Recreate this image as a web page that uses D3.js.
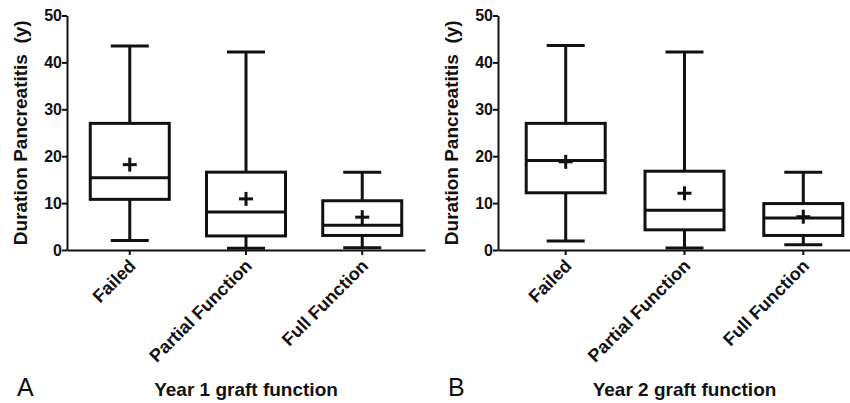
<!DOCTYPE html>
<html>
  <head>
    <meta charset="utf-8">
    <script src="https://d3js.org/d3.v7.min.js"></script>
    <style>
      body { margin: 0; background: #fff; }
      text { font-family: "Liberation Sans", Arial, sans-serif; fill: #111; }
    </style>
  </head>
  <body>
    <div id="plot"></div>
    <script>

    // categories and tick labels
    const groups = ["Failed", "Partial Function", "Full Function"];
    const yTicks = [0, 10, 20, 30, 40, 50];

    // box stats: [whisker low, Q1, median, Q3, whisker high]
    const year1Box = [[2.0, 10.8, 15.4, 27.0, 43.5],
                      [0.35, 3.0, 8.1, 16.6, 42.2],
                      [0.5, 3.1, 5.3, 10.5, 16.6]];
    const year1Mean = [18.2, 10.9, 7.0];

    const year2Box = [[1.9, 12.2, 19.1, 27.0, 43.6],
                      [0.4, 4.3, 8.5, 16.8, 42.2],
                      [1.1, 3.1, 6.8, 9.9, 16.6]];
    const year2Mean = [18.8, 12.1, 7.1];

    const W = 850, H = 403;
    const ink = "#111";

    const svg = d3.select("#plot")
      .append("svg")
        .attr("width", W)
        .attr("height", H);

    // y scale shared by both panels
    const y = d3.scaleLinear()
      .domain([0, 50])
      .range([250, 15.5]);

    function panel(left, right, pad, boxes, means, letter, title) {
      const g = svg.append("g");

      const x = d3.scaleBand()
        .domain(groups)
        .range([left, right])
        .paddingInner(0)
        .paddingOuter(pad);

      // y axis
      const yAxis = g.append("g")
        .attr("transform", "translate(" + left + ",0)")
        .call(d3.axisLeft(y).tickValues(yTicks).tickSize(5).tickSizeOuter(0));
      yAxis.select(".domain").attr("stroke", ink).attr("stroke-width", 2);
      yAxis.selectAll(".tick line").attr("stroke", ink).attr("stroke-width", 2);
      yAxis.selectAll(".tick text")
        .attr("x", -5)
        .style("font-size", "16px")
        .style("font-weight", "bold")
        .style("font-family", "'Liberation Sans', Arial, sans-serif")
        .attr("fill", ink);

      // x axis
      const xAxis = g.append("g")
        .attr("transform", "translate(0," + y(0) + ")")
        .call(d3.axisBottom(x).tickSize(5).tickSizeOuter(0));
      xAxis.select(".domain").attr("stroke", ink).attr("stroke-width", 2);
      xAxis.selectAll(".tick line").attr("stroke", ink).attr("stroke-width", 2);
      xAxis.selectAll(".tick text")
        .attr("text-anchor", "end")
        .attr("x", 0)
        .attr("y", 0)
        .attr("dy", 0)
        .attr("transform", "translate(7,17) rotate(-45)")
        .style("font-size", "18px")
        .style("font-weight", "bold")
        .style("font-family", "'Liberation Sans', Arial, sans-serif")
        .attr("fill", ink);

      const bw = 79, cw = 38;
      const data = groups.map(function(d, i) {
        return { name: d, s: boxes[i], m: means[i] };
      });

      const b = g.selectAll(".box")
        .data(data)
        .enter()
        .append("g")
          .attr("transform", function(d) {
            return "translate(" + (x(d.name) + x.bandwidth() / 2) + ",0)";
          })
          .attr("stroke", ink)
          .attr("stroke-width", 3)
          .attr("fill", "none");

      // whiskers
      b.append("line")
        .attr("x1", 0).attr("x2", 0)
        .attr("y1", function(d) { return y(d.s[3]); })
        .attr("y2", function(d) { return y(d.s[4]); });
      b.append("line")
        .attr("x1", 0).attr("x2", 0)
        .attr("y1", function(d) { return y(d.s[0]); })
        .attr("y2", function(d) { return y(d.s[1]); });
      // caps
      b.append("line")
        .attr("x1", -cw / 2).attr("x2", cw / 2)
        .attr("y1", function(d) { return y(d.s[4]); })
        .attr("y2", function(d) { return y(d.s[4]); });
      b.append("line")
        .attr("x1", -cw / 2).attr("x2", cw / 2)
        .attr("y1", function(d) { return y(d.s[0]); })
        .attr("y2", function(d) { return y(d.s[0]); });
      // box
      b.append("rect")
        .attr("x", -bw / 2)
        .attr("width", bw)
        .attr("y", function(d) { return y(d.s[3]); })
        .attr("height", function(d) { return y(d.s[1]) - y(d.s[3]); })
        .attr("fill", "#fff");
      // median
      b.append("line")
        .attr("x1", -bw / 2).attr("x2", bw / 2)
        .attr("y1", function(d) { return y(d.s[2]); })
        .attr("y2", function(d) { return y(d.s[2]); });
      // mean plus
      b.append("line")
        .attr("x1", -7).attr("x2", 7)
        .attr("y1", function(d) { return y(d.m); })
        .attr("y2", function(d) { return y(d.m); });
      b.append("line")
        .attr("x1", 0).attr("x2", 0)
        .attr("y1", function(d) { return y(d.m) - 7; })
        .attr("y2", function(d) { return y(d.m) + 7; });

      // y label
      g.append("text")
        .text("Duration Pancreatitis\u00a0\u00a0(y)")
        .attr("transform", "rotate(-90)")
        .attr("x", -(y(0) + y(50)) / 2)
        .attr("y", left - 40)
        .attr("text-anchor", "middle")
        .style("font-size", "19px")
        .style("font-weight", "bold");

      // panel letter
      g.append("text")
        .text(letter)
        .attr("x", left - 50)
        .attr("y", 396)
        .style("font-size", "25px");

      // x label
      g.append("text")
        .text(title)
        .attr("x", x(groups[1]) + x.bandwidth() / 2)
        .attr("y", 396)
        .attr("text-anchor", "middle")
        .style("font-size", "19px")
        .style("font-weight", "bold");
    }

    panel(67, 425, 0.04, year1Box, year1Mean, "A", "Year 1 graft function");
    panel(498, 871, 0.07, year2Box, year2Mean, "B", "Year 2 graft function");

    </script>
  </body>
</html>
